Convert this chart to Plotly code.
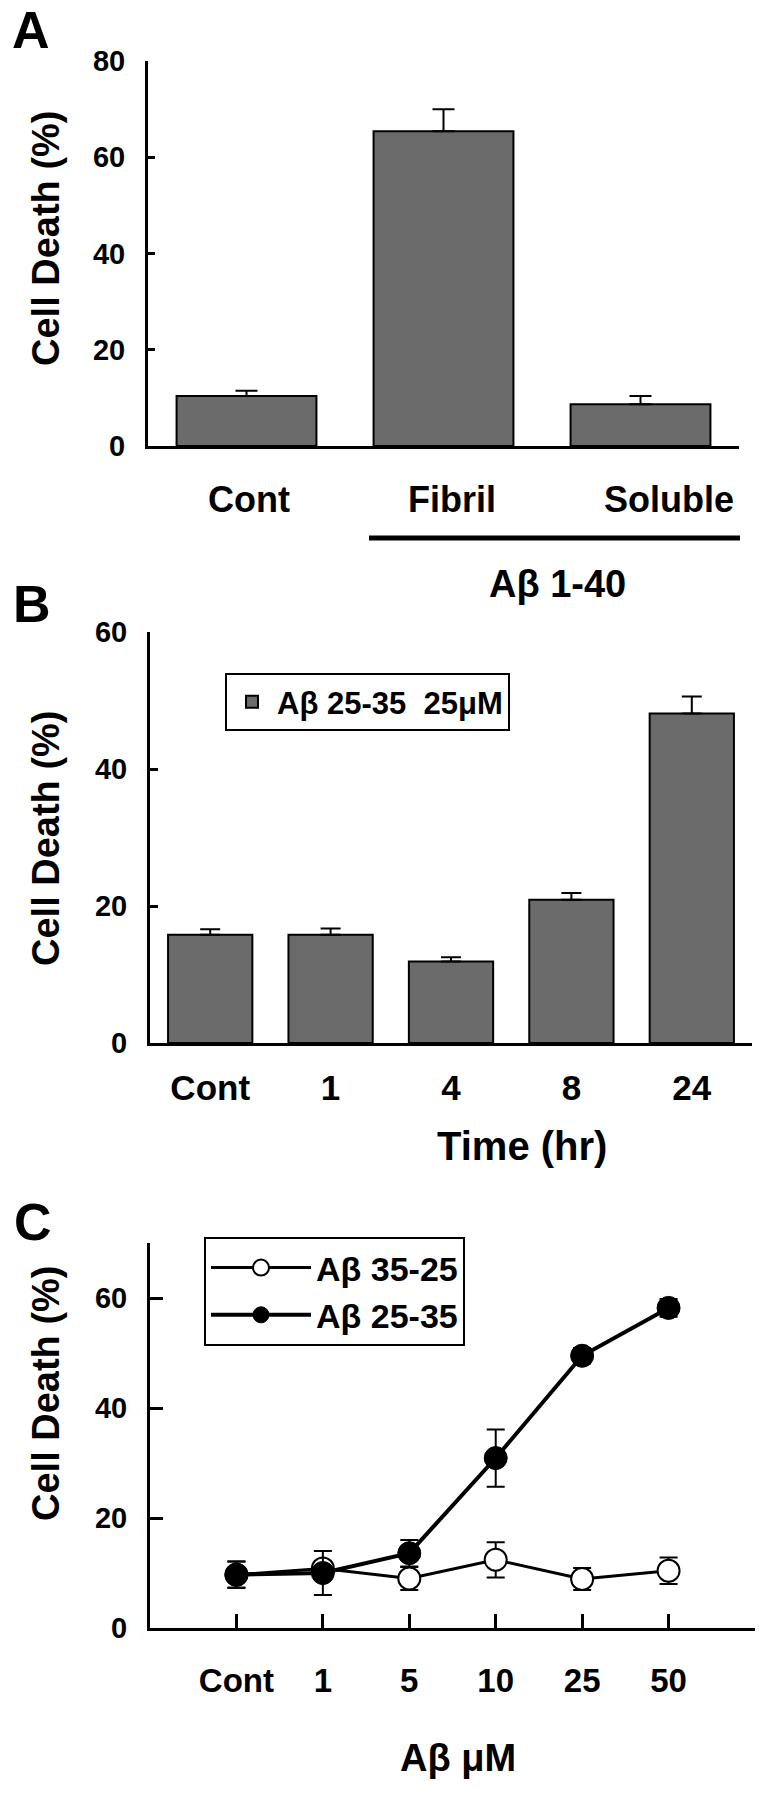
import plotly.graph_objects as go

# ---------------- data ----------------
# Panel A
a_categories = ["Cont", "Fibril", "Soluble"]
a_values = [10.4, 65.4, 8.7]
a_errors = [1.1, 4.6, 1.7]

# Panel B
b_categories = ["Cont", "1", "4", "8", "24"]
b_values = [15.8, 15.8, 11.9, 20.9, 48.1]
b_errors = [0.8, 0.9, 0.6, 1.0, 2.5]

# Panel C
c_categories = ["Cont", "1", "5", "10", "25", "50"]
c_rev_values = [9.7, 10.8, 9.0, 12.4, 8.9, 10.4]      # Aβ 35-25
c_rev_errors = [2.4, 1.4, 2.1, 3.2, 2.0, 2.4]
c_fwd_values = [9.7, 10.0, 13.6, 30.9, 49.5, 58.2]    # Aβ 25-35
c_fwd_errors = [2.4, 4.0, 2.4, 5.2, 1.4, 1.6]

# ---------------- helpers ----------------
W, H = 766, 1800
FONT = "Liberation Sans, Arial, Helvetica, sans-serif"
BAR_COLOR = "#6b6b6b"


def px(x):
    return x / W


def py(y):
    return 1 - y / H


def bfont(size):
    return dict(family=FONT, size=size, color="black", weight="bold")


fig = go.Figure()

fig.add_trace(go.Bar(
    x=a_categories, y=a_values, xaxis="x", yaxis="y",
    marker=dict(color=BAR_COLOR, line=dict(color="black", width=2)),
    width=0.71,
    error_y=dict(type="data", symmetric=False, array=a_errors,
                 arrayminus=[0] * len(a_errors), color="black", thickness=2, width=11),
    showlegend=False,
))

fig.add_trace(go.Bar(
    x=b_categories, y=b_values, xaxis="x2", yaxis="y2",
    name="Aβ 25-35  25μM",
    marker=dict(color=BAR_COLOR, line=dict(color="black", width=2)),
    width=0.70,
    error_y=dict(type="data", symmetric=False, array=b_errors,
                 arrayminus=[0] * len(b_errors), color="black", thickness=2, width=10),
    showlegend=True, legend="legend",
))

fig.add_trace(go.Scatter(
    x=c_categories, y=c_rev_values, xaxis="x3", yaxis="y3",
    mode="lines+markers", name="Aβ 35-25",
    line=dict(color="black", width=3),
    marker=dict(symbol="circle", size=22, color="white", line=dict(color="black", width=2)),
    error_y=dict(type="data", array=c_rev_errors, color="black", thickness=2, width=9),
    legend="legend2",
))
fig.add_trace(go.Scatter(
    x=c_categories, y=c_fwd_values, xaxis="x3", yaxis="y3",
    mode="lines+markers", name="Aβ 25-35",
    line=dict(color="black", width=4),
    marker=dict(symbol="circle", size=23, color="black", line=dict(color="black", width=1)),
    error_y=dict(type="data", array=c_fwd_errors, color="black", thickness=2, width=9),
    legend="legend2",
))

common_axis = dict(showline=True, linecolor="black", linewidth=3, showgrid=False,
                   zeroline=False, tickcolor="black", tickwidth=3, automargin=False)

layout = dict(
    width=W, height=H,
    margin=dict(l=0, r=0, t=0, b=0, autoexpand=False),
    paper_bgcolor="white", plot_bgcolor="white",
    font=dict(family=FONT, color="black"),
    xaxis=dict(domain=[px(148), px(739)], anchor="y", type="category",
               categoryarray=a_categories, range=[-0.5, 2.5],
               showticklabels=False, ticks="", **common_axis),
    yaxis=dict(domain=[py(446), py(61)], anchor="x", range=[0, 80],
               tickvals=[0, 20, 40, 60, 80], ticks="inside", ticklen=7,
               tickfont=bfont(29), ticklabelstandoff=14, **common_axis),
    xaxis2=dict(domain=[px(150), px(752)], anchor="y2", type="category",
                categoryarray=b_categories, range=[-0.5, 4.5],
                ticks="", tickfont=bfont(35), ticklabelstandoff=12, **common_axis),
    yaxis2=dict(domain=[py(1043), py(632)], anchor="x2", range=[0, 60],
                tickvals=[0, 20, 40, 60], ticks="inside", ticklen=8,
                tickfont=bfont(29), ticklabelstandoff=14, **common_axis),
    xaxis3=dict(domain=[px(150), px(755)], anchor="y3", type="category",
                categoryarray=c_categories + [" "], range=[-1, 6],
                ticks="inside", ticklen=14, tickfont=bfont(33),
                ticklabelstandoff=21, **common_axis),
    yaxis3=dict(domain=[py(1628), py(1243)], anchor="x3", range=[0, 70],
                tickvals=[0, 20, 40, 60], ticks="inside", ticklen=13,
                tickfont=bfont(29), ticklabelstandoff=14, **common_axis),
    legend=dict(x=px(225), y=py(673), xanchor="left", yanchor="top",
                bordercolor="black", borderwidth=2, bgcolor="white",
                font=bfont(31), itemwidth=40),
    legend2=dict(x=px(204), y=py(1237), xanchor="left", yanchor="top",
                 bordercolor="black", borderwidth=2, bgcolor="white",
                 font=bfont(34), itemwidth=100, tracegroupgap=0),
)

annotations = []
for letter, (lx, ly, size) in {"A": (31, 30, 52), "B": (32, 604, 52), "C": (33, 1222, 52)}.items():
    annotations.append(dict(text=letter, x=px(lx), y=py(ly), xref="paper", yref="paper",
                            showarrow=False, font=bfont(size), xanchor="center", yanchor="middle"))
for cy in (239, 839, 1394):
    annotations.append(dict(text="Cell Death (%)", x=px(46), y=py(cy), xref="paper", yref="paper",
                            textangle=-90, showarrow=False, font=bfont(38),
                            xanchor="center", yanchor="middle"))
for cat, shift in zip(a_categories, [2, 8, 28]):
    annotations.append(dict(text=cat, x=cat, xref="x", y=py(499), yref="paper", xshift=shift,
                            showarrow=False, font=bfont(36), xanchor="center", yanchor="middle"))
annotations.append(dict(text="Aβ 1-40", x=px(557), y=py(584), xref="paper", yref="paper",
                        showarrow=False, font=bfont(38), xanchor="center", yanchor="middle"))
annotations.append(dict(text="Time (hr)", x=px(522), y=py(1146), xref="paper", yref="paper",
                        showarrow=False, font=bfont(40), xanchor="center", yanchor="middle"))
annotations.append(dict(text="Aβ μM", x=px(458), y=py(1758), xref="paper", yref="paper",
                        showarrow=False, font=bfont(38), xanchor="center", yanchor="middle"))
layout["annotations"] = annotations

layout["shapes"] = [
    dict(type="line", xref="paper", yref="paper",
         x0=px(369), x1=px(740), y0=py(538), y1=py(538),
         line=dict(color="black", width=5)),
]

fig.update_layout(**layout)
fig.write_html(
    "out.html",
    config={"displayModeBar": False},
    post_script="document.body.style.margin='0px';document.body.style.overflow='hidden';",
)
